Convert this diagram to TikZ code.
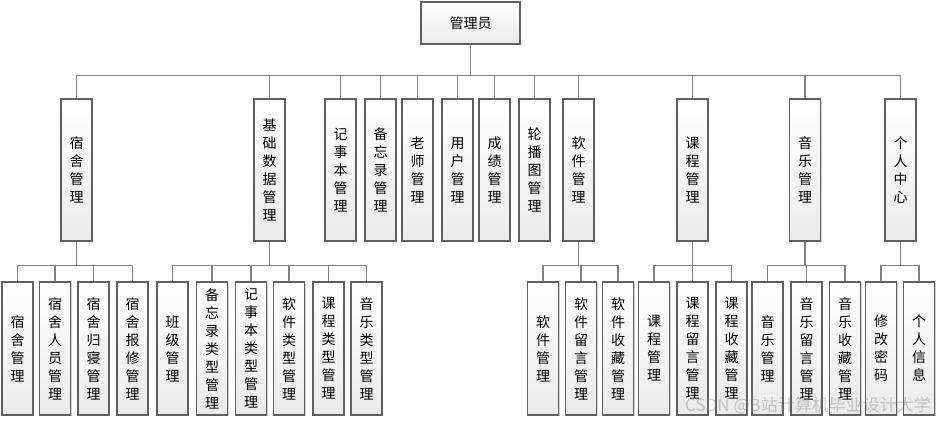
\documentclass[tikz,border=0pt]{standalone}
\usepackage{fontspec}
\newfontfamily\cjk{Noto Sans CJK SC}
\usetikzlibrary{shadows}

\definecolor{linegray}{RGB}{128,128,128}
\definecolor{boxgray}{RGB}{95,95,95}
\definecolor{boxfill}{RGB}{234,234,234}

\tikzset{
  box/.style={draw=boxgray, line width=1.2pt, top color=white, bottom color=boxfill,
    inner sep=0pt, align=center, font=\cjk\fontsize{14}{18}\selectfont,
    drop shadow={shadow xshift=1.2pt, shadow yshift=-1.2pt, fill=black, opacity=0.18}},
  topbox/.style={box, minimum width=99pt, minimum height=42pt},
  midbox/.style={box, minimum width=31pt, minimum height=142pt},
  lowbox/.style={box, minimum width=31pt, minimum height=133pt},
  link/.style={draw=linegray, line width=1.5pt}
}

\begin{document}
\begin{tikzpicture}[x=1pt,y=-1pt]
        \useasboundingbox (0,0) rectangle (940,421);

        % top
        \node[topbox] (root) at (470.5,23) {管理员};

        % first level
        \node[midbox] (sushe)     at (76.5,170)  {宿\\舍\\管\\理};
        \node[midbox] (jichu)     at (269.5,170) {基\\础\\数\\据\\管\\理};
        \node[midbox] (jishiben)  at (340.5,170) {记\\事\\本\\管\\理};
        \node[midbox] (beiwanglu) at (380.5,170) {备\\忘\\录\\管\\理};
        \node[midbox] (laoshi)    at (417.5,170) {老\\师\\管\\理};
        \node[midbox] (yonghu)    at (457.5,170) {用\\户\\管\\理};
        \node[midbox] (chengji)   at (494.5,170) {成\\绩\\管\\理};
        \node[midbox] (lunbotu)   at (534.5,170) {轮\\播\\图\\管\\理};
        \node[midbox] (ruanjian)  at (578.5,170) {软\\件\\管\\理};
        \node[midbox] (kecheng)   at (692.5,170) {课\\程\\管\\理};
        \node[midbox] (yinyue)    at (805,170)   {音\\乐\\管\\理};
        \node[midbox] (geren)     at (900.5,170) {个\\人\\中\\心};

        % second level
        \node[lowbox] (sushegl) at (17.5,348.5)  {宿\\舍\\管\\理};
        \node[lowbox] (sushery) at (55,348.5)    {宿\\舍\\人\\员\\管\\理};
        \node[lowbox] (sushegq) at (93.5,348.5)  {宿\\舍\\归\\寝\\管\\理};
        \node[lowbox] (shebx)   at (132.5,348.5) {宿\\舍\\报\\修\\管\\理};

        \node[lowbox] (banji) at (172.5,348.5) {班\\级\\管\\理};
        \node[lowbox] (bwllx) at (212,348.5)   {备\\忘\\录\\类\\型\\管\\理};
        \node[lowbox] (jsblx) at (251,348.5)   {记\\事\\本\\类\\型\\管\\理};
        \node[lowbox] (rjlx)  at (289,348.5)   {软\\件\\类\\型\\管\\理};
        \node[lowbox] (kclx)  at (328.5,348.5) {课\\程\\类\\型\\管\\理};
        \node[lowbox] (yylx)  at (366.5,348.5) {音\\乐\\类\\型\\管\\理};

        \node[lowbox] (rjgl) at (543,348.5) {软\\件\\管\\理};
        \node[lowbox] (rjly) at (581,348.5) {软\\件\\留\\言\\管\\理};
        \node[lowbox] (rjsc) at (618,348.5) {软\\件\\收\\藏\\管\\理};

        \node[lowbox] (kcgl) at (654,348.5)   {课\\程\\管\\理};
        \node[lowbox] (kcly) at (692.5,348.5) {课\\程\\留\\言\\管\\理};
        \node[lowbox] (kcsc) at (731.5,348.5) {课\\程\\收\\藏\\管\\理};

        \node[lowbox] (yygl) at (767.5,348.5) {音\\乐\\管\\理};
        \node[lowbox] (yyly) at (806.5,348.5) {音\\乐\\留\\言\\管\\理};
        \node[lowbox] (yysc) at (845,348.5)   {音\\乐\\收\\藏\\管\\理};

        \node[lowbox] (xgmm) at (881,348.5) {修\\改\\密\\码};
        \node[lowbox] (grxx) at (919,348.5) {个\\人\\信\\息};

        % links from the top
        \draw[link] (root.south) -- ++(0,31) -| (sushe.north);
        \draw[link] (root.south) -- ++(0,31) -| (jichu.north);
        \draw[link] (root.south) -- ++(0,31) -| (jishiben.north);
        \draw[link] (root.south) -- ++(0,31) -| (beiwanglu.north);
        \draw[link] (root.south) -- ++(0,31) -| (laoshi.north);
        \draw[link] (root.south) -- ++(0,31) -| (yonghu.north);
        \draw[link] (root.south) -- ++(0,31) -| (chengji.north);
        \draw[link] (root.south) -- ++(0,31) -| (lunbotu.north);
        \draw[link] (root.south) -- ++(0,31) -| (ruanjian.north);
        \draw[link] (root.south) -- ++(0,31) -| (kecheng.north);
        \draw[link] (root.south) -- ++(0,31) -| (yinyue.north);
        \draw[link] (root.south) -- ++(0,31) -| (geren.north);

        % links to the second level
        \draw[link] (sushe.south) -- ++(0,24) -| (sushegl.north);
        \draw[link] (sushe.south) -- ++(0,24) -| (sushery.north);
        \draw[link] (sushe.south) -- ++(0,24) -| (sushegq.north);
        \draw[link] (sushe.south) -- ++(0,24) -| (shebx.north);

        \draw[link] (jichu.south) -- ++(0,24) -| (banji.north);
        \draw[link] (jichu.south) -- ++(0,24) -| (bwllx.north);
        \draw[link] (jichu.south) -- ++(0,24) -| (jsblx.north);
        \draw[link] (jichu.south) -- ++(0,24) -| (rjlx.north);
        \draw[link] (jichu.south) -- ++(0,24) -| (kclx.north);
        \draw[link] (jichu.south) -- ++(0,24) -| (yylx.north);

        \draw[link] (ruanjian.south) -- ++(0,24) -| (rjgl.north);
        \draw[link] (ruanjian.south) -- ++(0,24) -| (rjly.north);
        \draw[link] (ruanjian.south) -- ++(0,24) -| (rjsc.north);

        \draw[link] (kecheng.south) -- ++(0,24) -| (kcgl.north);
        \draw[link] (kecheng.south) -- ++(0,24) -| (kcly.north);
        \draw[link] (kecheng.south) -- ++(0,24) -| (kcsc.north);

        \draw[link] (yinyue.south) -- ++(0,24) -| (yygl.north);
        \draw[link] (yinyue.south) -- ++(0,24) -| (yyly.north);
        \draw[link] (yinyue.south) -- ++(0,24) -| (yysc.north);

        \draw[link] (geren.south) -- ++(0,24) -| (xgmm.north);
        \draw[link] (geren.south) -- ++(0,24) -| (grxx.north);

        \node[font=\cjk\fontsize{17}{17}\selectfont, text=gray, opacity=0.4] (mark) at (808,406) {CSDN @B站计算机毕业设计大学};
\end{tikzpicture}
\end{document}
